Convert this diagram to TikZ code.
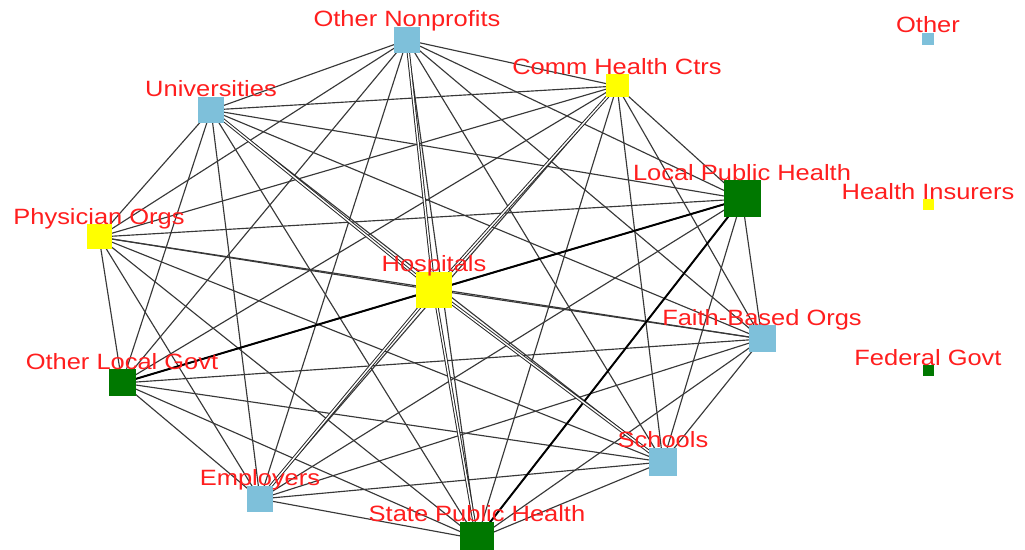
\documentclass[tikz,border=0pt]{standalone}
\usepackage{fontspec}
\setmainfont{Liberation Sans}
\newfontfamily\lblfont[FakeStretch=1.15]{Liberation Sans}
\usetikzlibrary{backgrounds}
\usepackage{xcolor}
\definecolor{orgblue}{RGB}{126,192,218}
\definecolor{orggreen}{RGB}{0,120,0}
\definecolor{orgyellow}{RGB}{255,255,0}
\definecolor{lblred}{RGB}{255,30,30}

\tikzset{
  org/.style={rectangle,inner sep=0pt,minimum size=0.02cm*#1},
  lbl/.style={anchor=base,inner sep=0pt,text=lblred,font=\lblfont\fontsize{12.6}{14}\selectfont},
  tie/.style={draw=black!78,line width=0.65pt},
  strongtie/.style={draw=black,line width=1.1pt},
  doubletie/.style={draw=black!85,line width=0.55pt,double=white,double distance=0.8pt}
}

\begin{document}
\begin{tikzpicture}[x=0.02cm,y=-0.02cm]
    \useasboundingbox (0,0) rectangle (1025,550);

    % organisations
    \begin{scope}
      \node[org=26,fill=orgblue]   (onp)  at (407,40)  {};
      \node[org=23,fill=orgyellow] (chc)  at (617,86)  {};
      \node[org=26,fill=orgblue]   (univ) at (211,110) {};
      \node[org=25,fill=orgyellow] (phys) at (99,237)  {};
      \node[org=37,fill=orggreen]  (lph)  at (742,199) {};
      \node[org=36,fill=orgyellow] (hosp) at (434,290) {};
      \node[org=27,fill=orgblue]   (fbo)  at (762,339) {};
      \node[org=27,fill=orggreen]  (olg)  at (122,383) {};
      \node[org=28,fill=orgblue]   (sch)  at (663,462) {};
      \node[org=26,fill=orgblue]   (emp)  at (260,499) {};
      \node[org=34,fill=orggreen]  (sph)  at (477,539) {};
      \node[org=12,fill=orgblue]   (oth)  at (928,39)  {};
      \node[org=11,fill=orgyellow] (ins)  at (928,205) {};
      \node[org=11,fill=orggreen]  (fed)  at (928,371) {};
    \end{scope}

    % ties
    \begin{scope}[on background layer]
      \foreach \a [count=\i] in {onp,chc,univ,phys,lph,hosp,fbo,olg,sch,emp,sph}
        \foreach \b [count=\j] in {onp,chc,univ,phys,lph,hosp,fbo,olg,sch,emp,sph}
          {\ifnum\j>\i \path[tie] (\a.center) -- (\b.center); \fi}
      \path[strongtie] (hosp.center) -- (lph.center);
      \path[strongtie] (hosp.center) -- (olg.center);
      \path[strongtie] (lph.center) -- (sph.center);
      \foreach \b in {onp,chc,univ,sch,sph,emp}
        \path[doubletie] (hosp.center) -- (\b.center);
    \end{scope}

    % labels
    \node[lbl] (onp-l)  at (onp.north)  {Other Nonprofits};
    \node[lbl] (chc-l)  at (chc.north)  {Comm Health Ctrs};
    \node[lbl] (univ-l) at (univ.north) {Universities};
    \node[lbl] (phys-l) at (phys.north) {Physician Orgs};
    \node[lbl] (lph-l)  at (lph.north)  {Local Public Health};
    \node[lbl] (hosp-l) at (hosp.north) {Hospitals};
    \node[lbl] (fbo-l)  at (fbo.north)  {Faith-Based Orgs};
    \node[lbl] (olg-l)  at (olg.north)  {Other Local Govt};
    \node[lbl] (sch-l)  at (sch.north)  {Schools};
    \node[lbl] (emp-l)  at (emp.north)  {Employers};
    \node[lbl] (sph-l)  at (sph.north)  {State Public Health};
    \node[lbl] (oth-l)  at (oth.north)  {Other};
    \node[lbl] (ins-l)  at (ins.north)  {Health Insurers};
    \node[lbl] (fed-l)  at (fed.north)  {Federal Govt};
\end{tikzpicture}
\end{document}
